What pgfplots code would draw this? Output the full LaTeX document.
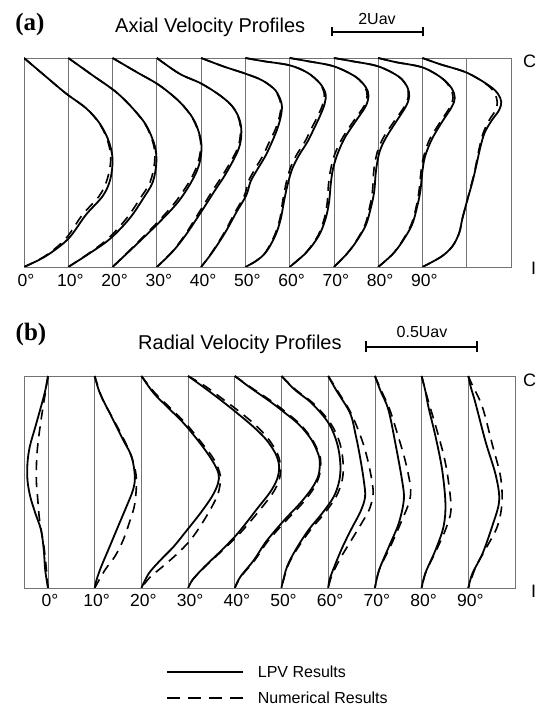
\documentclass[border=0pt]{standalone}
\usepackage{pgfplots}
\usepackage{pgfplotstable}
\pgfplotsset{compat=1.18}
\usepackage{fontspec}
\setmainfont{Liberation Sans}
\newfontfamily\seriffont{Liberation Serif}

% ---------- (a) axial velocity profiles: y = position across duct, u = LPV, d = numerical
\pgfplotstableread{
y u d
1.000 0.0 0.0
0.910 5.0 5.0
0.830 9.5 9.5
0.760 14.0 14.0
0.690 17.0 16.9
0.610 19.0 18.8
0.520 20.0 19.6
0.420 19.5 18.8
0.340 17.8 17.0
0.250 14.0 13.2
0.135 10.0 9.4
0.053 5.0 4.8
0.000 0.0 0.0
}\aZ
\pgfplotstableread{
y u d
1.000 0.0 0.0
0.917 5.5 5.5
0.837 10.8 10.8
0.758 14.6 14.6
0.678 17.6 17.5
0.582 19.5 19.3
0.502 19.9 19.5
0.407 19.1 18.5
0.327 16.9 16.2
0.231 13.8 13.1
0.136 9.5 9.0
0.068 5.0 4.8
0.000 0.0 0.0
}\aA
\pgfplotstableread{
y u d
1.000 0.0 0.0
0.933 5.4 5.4
0.869 10.6 10.6
0.789 15.2 15.2
0.710 18.2 18.1
0.630 19.7 19.6
0.566 20.1 19.9
0.486 19.5 19.1
0.407 17.8 17.3
0.311 14.8 14.2
0.215 10.6 10.2
0.112 5.6 5.4
0.000 0.0 0.0
}\aB
\pgfplotstableread{
y u d
1.000 0.0 0.0
0.925 5.1 5.1
0.878 10.0 10.0
0.822 14.2 14.2
0.770 17.0 17.0
0.710 18.6 18.5
0.646 19.1 18.9
0.566 18.5 18.2
0.454 15.8 15.3
0.359 12.9 12.4
0.263 10.0 9.6
0.152 6.5 6.3
0.072 3.5 3.4
0.000 0.0 0.0
}\aC
\pgfplotstableread{
y u d
1.000 0.0 0.0
0.960 5.0 5.0
0.925 10.0 10.0
0.893 13.8 13.8
0.845 16.8 16.7
0.780 18.2 18.0
0.720 18.0 17.7
0.660 17.2 16.8
0.598 16.0 15.4
0.534 14.6 14.0
0.470 12.8 12.2
0.410 11.2 10.7
0.343 10.2 9.8
0.263 8.0 7.7
0.167 5.5 5.3
0.072 2.6 2.5
0.000 0.0 0.0
}\aD
\pgfplotstableread{
y u d
1.000 0.0 0.0
0.985 4.0 4.0
0.965 10.0 10.0
0.930 14.0 14.0
0.880 16.8 16.7
0.830 18.1 17.8
0.780 17.9 17.5
0.720 16.8 16.3
0.662 15.5 14.9
0.598 14.0 13.4
0.534 12.1 11.5
0.470 10.6 10.1
0.391 9.5 9.1
0.311 8.7 8.4
0.231 8.0 7.8
0.152 6.8 6.6
0.072 4.7 4.6
0.030 2.5 2.5
0.000 0.0 0.0
}\aE
\pgfplotstableread{
y u d
1.000 0.0 0.0
0.985 4.0 4.0
0.960 10.0 10.0
0.910 14.9 14.9
0.860 17.2 17.0
0.820 17.8 17.5
0.770 17.2 16.8
0.700 15.0 14.5
0.620 12.5 12.0
0.540 10.8 10.2
0.470 9.8 9.3
0.400 9.3 8.8
0.310 8.9 8.5
0.230 8.1 7.8
0.150 6.6 6.4
0.070 3.8 3.7
0.000 0.0 0.0
}\aF
\pgfplotstableread{
y u d
1.000 0.0 0.0
0.985 4.0 4.0
0.960 10.0 10.0
0.910 14.7 14.7
0.860 16.6 16.5
0.815 17.0 16.8
0.770 16.3 16.0
0.700 14.2 13.7
0.620 11.8 11.2
0.550 10.3 9.8
0.460 9.5 9.0
0.360 9.1 8.7
0.280 8.3 8.0
0.200 7.2 7.0
0.120 5.0 4.9
0.060 2.8 2.8
0.000 0.0 0.0
}\aG
\pgfplotstableread{
y u d
1.000 0.0 0.0
0.980 4.0 4.0
0.955 10.0 10.0
0.905 14.3 14.3
0.855 16.6 16.3
0.810 17.3 16.9
0.765 16.6 16.2
0.690 14.3 13.9
0.610 12.1 11.6
0.530 10.6 10.3
0.460 10.0 9.7
0.360 9.5 9.2
0.280 8.7 8.5
0.200 7.6 7.4
0.120 5.4 5.3
0.060 3.2 3.2
0.000 0.0 0.0
}\aH
\pgfplotstableread{
y u d
1.000 0.0 0.0
0.970 4.0 4.0
0.930 10.0 10.0
0.870 14.9 14.7
0.830 17.0 16.3
0.790 17.8 16.9
0.750 17.3 16.5
0.700 15.6 15.0
0.640 14.0 13.7
0.566 13.0 12.8
0.470 12.0 11.9
0.400 11.2 11.1
0.310 10.0 10.0
0.230 9.0 9.0
0.163 8.3 8.3
0.100 6.8 6.8
0.050 4.3 4.3
0.000 0.0 0.0
}\aI

% ---------- (b) radial velocity profiles: ...s = LPV, ...d = numerical
\pgfplotstableread{
y u
1.000 0.0
0.930 -0.6
0.871 -1.3
0.761 -2.7
0.667 -3.9
0.588 -4.4
0.509 -4.4
0.431 -3.8
0.352 -2.7
0.274 -1.5
0.179 -0.9
0.085 -0.6
0.000 0.0
}\bZs
\pgfplotstableread{
y u
1.000 0.0
0.930 -0.5
0.820 -1.3
0.710 -2.0
0.620 -2.4
0.510 -2.5
0.420 -2.2
0.320 -1.8
0.200 -0.9
0.100 -0.4
0.000 0.0
}\bZd
\pgfplotstableread{
y u
1.000 0.0
0.920 1.1
0.808 3.6
0.698 6.1
0.620 7.9
0.525 8.6
0.462 8.2
0.384 6.8
0.290 5.0
0.195 3.2
0.101 1.4
0.039 0.4
0.000 0.0
}\bAs
\pgfplotstableread{
y u
1.000 0.0
0.900 1.5
0.840 2.9
0.737 5.4
0.635 7.6
0.525 8.9
0.400 8.6
0.321 7.6
0.226 6.1
0.148 4.3
0.085 2.2
0.000 0.0
}\bAd
\pgfplotstableread{
y u
1.000 0.0
0.920 2.6
0.855 5.5
0.776 9.1
0.682 12.6
0.604 15.1
0.541 16.5
0.493 16.4
0.431 15.1
0.352 12.6
0.274 9.8
0.195 6.9
0.132 4.1
0.069 1.6
0.000 0.0
}\bBs
\pgfplotstableread{
y u
1.000 0.0
0.920 2.9
0.855 5.9
0.776 9.5
0.682 13.0
0.604 15.6
0.530 16.9
0.460 16.6
0.400 15.5
0.305 13.0
0.226 10.5
0.160 7.6
0.100 4.5
0.050 1.8
0.000 0.0
}\bBd
\pgfplotstableread{
y u
1.000 0.0
0.946 3.4
0.888 6.9
0.825 10.5
0.760 14.0
0.698 16.8
0.630 18.8
0.570 19.5
0.510 19.0
0.450 17.5
0.380 15.0
0.300 12.2
0.242 10.0
0.170 6.8
0.100 3.5
0.040 1.0
0.000 0.0
}\bCs
\pgfplotstableread{
y u
1.000 0.0
0.950 3.8
0.890 7.5
0.830 11.1
0.765 14.6
0.700 17.3
0.630 19.2
0.570 19.8
0.510 19.5
0.450 18.2
0.380 15.8
0.300 12.8
0.242 10.4
0.170 7.0
0.100 3.6
0.040 1.0
0.000 0.0
}\bCd
\pgfplotstableread{
y u
1.000 0.0
0.950 3.0
0.879 7.6
0.830 10.5
0.770 13.8
0.700 16.4
0.630 17.9
0.588 18.2
0.530 17.9
0.470 16.5
0.400 14.0
0.330 11.0
0.270 8.6
0.210 6.4
0.132 4.1
0.053 1.2
0.000 0.0
}\bDs
\pgfplotstableread{
y u
1.000 0.0
0.950 3.2
0.879 8.0
0.830 10.9
0.770 14.1
0.700 16.6
0.630 18.1
0.588 18.4
0.530 18.1
0.470 16.9
0.400 14.5
0.330 11.5
0.270 9.0
0.210 6.7
0.132 4.3
0.053 1.3
0.000 0.0
}\bDd
\pgfplotstableread{
y u
1.000 0.0
0.934 2.9
0.871 6.5
0.777 10.1
0.683 11.9
0.588 12.6
0.509 12.4
0.431 11.2
0.352 8.7
0.274 5.8
0.179 3.0
0.101 1.2
0.022 0.2
0.000 0.0
}\bEs
\pgfplotstableread{
y u
1.000 0.0
0.934 3.1
0.871 6.8
0.777 10.5
0.683 12.5
0.588 13.2
0.509 13.0
0.431 11.7
0.352 9.2
0.274 6.2
0.179 3.2
0.101 1.3
0.000 0.0
}\bEd
\pgfplotstableread{
y u
1.000 0.0
0.930 1.8
0.824 4.7
0.720 5.9
0.620 6.8
0.510 7.6
0.430 7.9
0.360 6.9
0.280 5.0
0.190 3.0
0.100 1.3
0.040 0.3
0.000 0.0
}\bFs
\pgfplotstableread{
y u
1.000 0.0
0.930 2.0
0.824 4.9
0.700 7.2
0.600 8.5
0.500 9.4
0.440 9.6
0.370 8.8
0.300 7.0
0.220 4.8
0.140 2.6
0.060 0.8
0.000 0.0
}\bFd
\pgfplotstableread{
y u
1.000 0.0
0.930 1.2
0.840 2.9
0.680 4.4
0.510 5.8
0.418 6.2
0.305 5.1
0.195 3.0
0.085 0.9
0.000 0.0
}\bGs
\pgfplotstableread{
y u
1.000 0.0
0.930 1.4
0.840 3.2
0.700 5.2
0.600 6.5
0.480 7.6
0.410 7.4
0.320 5.8
0.200 3.4
0.090 1.0
0.000 0.0
}\bGd
\pgfplotstableread{
y u
1.000 0.0
0.930 0.8
0.850 1.5
0.713 3.0
0.557 4.4
0.400 5.1
0.290 4.7
0.180 3.0
0.070 0.8
0.000 0.0
}\bHs
\pgfplotstableread{
y u
1.000 0.0
0.900 1.2
0.750 3.2
0.620 4.8
0.510 5.7
0.370 6.3
0.280 5.2
0.180 3.2
0.080 1.0
0.000 0.0
}\bHd
\pgfplotstableread{
y u
1.000 0.0
0.950 0.5
0.875 1.5
0.690 3.7
0.530 5.9
0.410 6.6
0.290 5.1
0.160 3.0
0.070 0.9
0.000 0.0
}\bIs
\pgfplotstableread{
y u
1.000 0.0
0.960 0.8
0.855 3.0
0.680 5.1
0.525 6.9
0.400 7.2
0.289 6.2
0.180 3.6
0.100 1.6
0.000 0.0
}\bId

\pgfplotsset{
  profile axis/.style={
    scale only axis,
    anchor=south west,
    ymin=0, ymax=1, ytick=\empty,
    axis line style={draw=black!55, line width=0.8pt},
    major tick length=0pt,
    xmajorgrids=true,
    grid style={draw=black!55, line width=0.8pt},
    xticklabel style={font=\fontsize{17.5}{17.5}\selectfont, anchor=base, inner sep=0pt, xshift=2pt},
  },
  lpv/.style={black, line width=1.8pt, smooth, tension=0.55, forget plot},
  num/.style={black, line width=1.6pt, dash pattern=on 10pt off 7pt, smooth, tension=0.55, forget plot},
}
% one station: dashed numerical profile under the solid LPV profile
\newcommand{\axprof}[2]{%
  \addplot[num] table[x expr=\thisrow{d}+#2, y=y] {#1};
  \addplot[lpv] table[x expr=\thisrow{u}+#2, y=y] {#1};}
\newcommand{\radprof}[3]{%
  \addplot[num] table[x expr=\thisrow{u}+#3, y=y] {#2};
  \addplot[lpv] table[x expr=\thisrow{u}+#3, y=y] {#1};}

\begin{document}
\begin{tikzpicture}
\path[use as bounding box, clip] (0,0) rectangle (537pt,706pt);

% ---------------- (a) axial velocity
\begin{axis}[profile axis,
  at={(24pt,439pt)}, width=487pt, height=209pt,
  xmin=0, xmax=110,
  xtick={0,10,...,100},
  xticklabels={0°,10°,20°,30°,40°,50°,60°,70°,80°,90°,{}},
  xticklabel style={yshift=-20pt}]
\axprof{\aZ}{0}
\axprof{\aA}{10}
\axprof{\aB}{20}
\axprof{\aC}{30}
\axprof{\aD}{40}
\axprof{\aE}{50}
\axprof{\aF}{60}
\axprof{\aG}{70}
\axprof{\aH}{80}
\axprof{\aI}{90}
\end{axis}

% ---------------- (b) radial velocity
\begin{axis}[profile axis,
  at={(24pt,118pt)}, width=491pt, height=212pt,
  xmin=-5.14, xmax=100,
  xtick={0,10,...,90},
  xticklabels={0°,10°,20°,30°,40°,50°,60°,70°,80°,90°},
  xticklabel style={yshift=-18pt},
  legend style={at={(axis description cs:0.289,-0.355)}, anchor=north west,
    draw=none, fill=none, inner sep=0pt, row sep=9pt, column sep=12pt,
    font=\fontsize{16}{16}\selectfont, cells={anchor=west}},
  legend image code/.code={\draw[#1] (0pt,0pt) -- (76pt,0pt);}]
\radprof{\bZs}{\bZd}{0}
\radprof{\bAs}{\bAd}{10}
\radprof{\bBs}{\bBd}{20}
\radprof{\bCs}{\bCd}{30}
\radprof{\bDs}{\bDd}{40}
\radprof{\bEs}{\bEd}{50}
\radprof{\bFs}{\bFd}{60}
\radprof{\bGs}{\bGd}{70}
\radprof{\bHs}{\bHd}{80}
\radprof{\bIs}{\bId}{90}
\addlegendimage{black, line width=1.8pt}
\addlegendentry{LPV Results}
\addlegendimage{black, line width=1.8pt, dash pattern=on 13pt off 8pt}
\addlegendentry{Numerical Results}
\end{axis}

% ---------------- titles, scale bars, wall labels
\node[font=\seriffont\bfseries\fontsize{25}{25}\selectfont] at (30pt,682pt) {(a)};
\node[anchor=base west, inner sep=0pt, font=\fontsize{20}{20}\selectfont] at (115pt,673pt) {Axial Velocity Profiles};
\node[anchor=base, inner sep=0pt, font=\fontsize{16}{16}\selectfont] at (377pt,681pt) {2Uav};
\draw[line width=1.4pt] (332pt,674pt) -- (423pt,674pt);
\draw[line width=1.4pt] (332pt,670pt) -- (332pt,679pt);
\draw[line width=1.4pt] (423pt,670pt) -- (423pt,679pt);
\node[anchor=base west, inner sep=0pt, font=\fontsize{18}{18}\selectfont] at (523pt,638pt) {C};
\node[anchor=base west, inner sep=0pt, font=\fontsize{18}{18}\selectfont] at (531pt,431pt) {I};

\node[font=\seriffont\bfseries\fontsize{25}{25}\selectfont] at (31pt,372pt) {(b)};
\node[anchor=base west, inner sep=0pt, font=\fontsize{20}{20}\selectfont] at (138pt,356pt) {Radial Velocity Profiles};
\node[anchor=base, inner sep=0pt, font=\fontsize{16}{16}\selectfont] at (422pt,368pt) {0.5Uav};
\draw[line width=1.4pt] (366pt,359pt) -- (477pt,359pt);
\draw[line width=1.4pt] (366pt,354pt) -- (366pt,365pt);
\draw[line width=1.4pt] (477pt,354pt) -- (477pt,365pt);
\node[anchor=base west, inner sep=0pt, font=\fontsize{18}{18}\selectfont] at (523pt,319pt) {C};
\node[anchor=base west, inner sep=0pt, font=\fontsize{18}{18}\selectfont] at (531pt,108pt) {I};
\end{tikzpicture}
\end{document}
